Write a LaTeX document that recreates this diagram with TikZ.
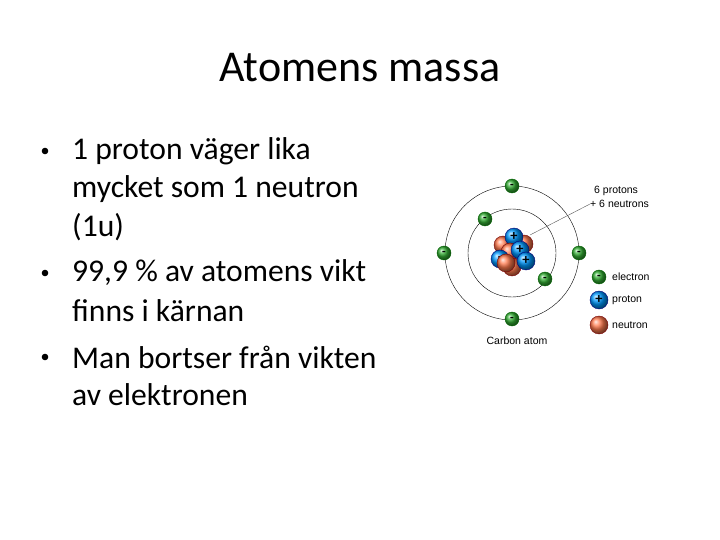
\documentclass[tikz,border=0pt]{standalone}
\usepackage{fontspec}
\setmainfont{Carlito}
\newfontfamily\arialf{Liberation Sans}
\begin{document}
\begin{tikzpicture}[x=1pt,y=-1pt,
 el/.style={circle,draw=green!40!black,ball color=green!60!black!80,inner sep=0pt,minimum size=14pt,font=\bfseries\large},
 pr/.style={circle,draw=blue!50!black,ball color=cyan!60!blue,inner sep=0pt,minimum size=18pt,font=\bfseries\Large},
 ne/.style={circle,draw=red!50!black,ball color=red!50!orange!70,inner sep=0pt,minimum size=18pt},
 txt/.style={anchor=west,font=\fontsize{31.6}{36}\selectfont,inner sep=0pt},
 lab/.style={anchor=west,font=\arialf\fontsize{10.5}{12}\selectfont,inner sep=0pt}]
\useasboundingbox (0,0) rectangle (720,540);
\fill[white] (0,0) rectangle (720,540);
\node[font=\fontsize{44}{50}\selectfont] (title) at (360,68) {Atomens massa};
\foreach \y/\t/\b in {151/1 proton väger lika/1,189/mycket som 1 neutron/0,227/(1u)/0,273/{99,9 \% av atomens vikt}/1,311/finns i kärnan/0,357/Man bortser från vikten/1,395/av elektronen/0}{
 \node[txt] at (72,\y) {\t};
 \ifnum\b=1 \fill (45,\y) circle[radius=3.3];\fi
}
\coordinate (c) at (512,253);
\draw (c) circle[radius=67];
\draw (c) circle[radius=44];
\foreach \p/\n in {{(512,186)}/e1,{(444,253)}/e2,{(579,253)}/e3,{(512,319)}/e4,{(485,219)}/e5,{(545,279)}/e6}
 \node[el] (\n) at \p {-};
% nucleus
\node[ne] (n1) at (503,245) {};
\node[ne] (n2) at (524,244) {};
\node[pr] (p1) at (514,237) {+};
\node[ne] (n3) at (510,252) {};
\node[pr] (p2) at (500,259) {-};
\node[ne] (n4) at (512,267) {};
\node[ne] (n5) at (506,263) {};
\node[pr] (p3) at (520,250) {+};
\node[pr] (p4) at (526,261) {+};
\node[lab] (l1) at (594,191) {6 protons};
\node[lab] (l2) at (590,204) {+ 6 neutrons};
\draw[gray!70!black,thin] (530,235) -- (l2.west);
\node[el] (le) at (599,277) {-};
\node[pr] (lp) at (599,300) {+};
\node[ne] (ln) at (599,325) {};
\node[lab] at (612,277) {electron};
\node[lab] at (612,300) {proton};
\node[lab] at (612,325) {neutron};
\node[lab,anchor=center] (cap) at (517,341) {Carbon atom};
\end{tikzpicture}
\end{document}
